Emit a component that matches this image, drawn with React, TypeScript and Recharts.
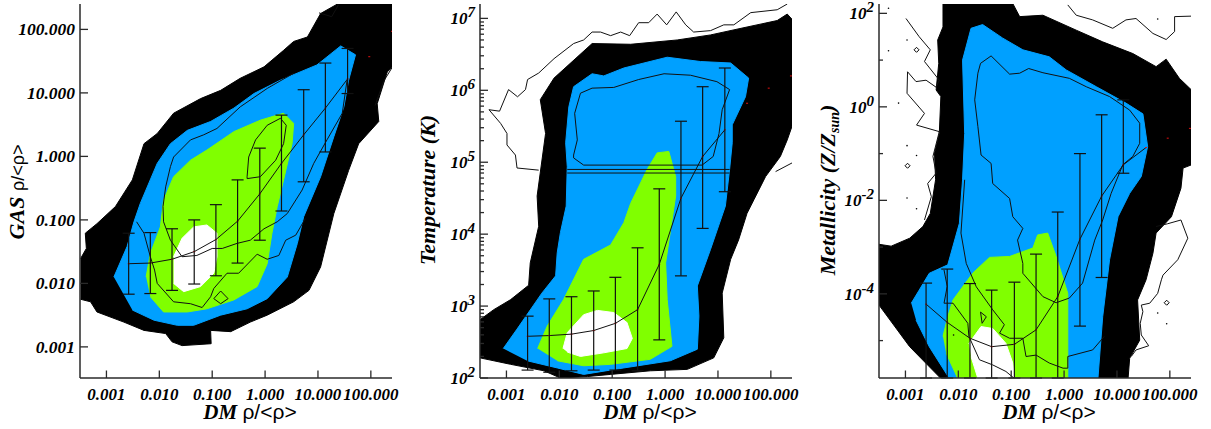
import { ComposedChart, Scatter, XAxis, YAxis, ErrorBar } from 'recharts'

// every value is log10 of the plotted quantity
const densityTicks = [-3, -2, -1, 0, 1, 2]
const densityLabels = ['0.001', '0.010', '0.100', '1.000', '10.000', '100.000']

// GAS panel
const gasBlack = [[-3.49,-1.61],[-3.38,-1.45],[-3.4,-1.21],[-3.18,-1.06],[-2.83,-0.79],[-2.51,-0.37],[-2.29,0.2],[-2.04,0.36],[-1.73,0.68],[-1.22,0.91],[-0.84,1.04],[-0.47,1.23],[-0.02,1.41],[0.35,1.67],[0.54,1.81],[0.8,1.88],[1.05,2.25],[1.39,2.41],[2.41,2.41],[2.41,1.41],[2.31,1.33],[2.12,0.83],[2.15,0.55],[1.77,0.2],[1.58,-0.22],[1.3,-0.9],[1.05,-1.74],[0.83,-2.11],[0.54,-2.29],[0.04,-2.5],[-0.28,-2.61],[-0.65,-2.76],[-1.03,-2.74],[-1.02,-2.95],[-1.57,-2.98],[-1.76,-2.92],[-1.88,-2.79],[-2.29,-2.74],[-2.67,-2.61],[-3.18,-2.45],[-3.3,-2.29],[-3.49,-2.25]]
const gasBlue = [[-2.86,-1.9],[-2.61,-1.42],[-2.48,-1.03],[-2.36,-0.74],[-2.04,-0.11],[-1.79,0.2],[-1.47,0.41],[-1.03,0.55],[-0.59,0.76],[-0.21,0.99],[0.29,1.2],[0.98,1.44],[1.43,1.74],[1.71,1.6],[1.58,1.2],[1.49,0.78],[1.3,0.31],[1.05,-0.32],[0.73,-0.95],[0.61,-1.37],[0.42,-1.9],[0.04,-2.24],[-0.34,-2.4],[-0.84,-2.5],[-1.35,-2.66],[-1.66,-2.66],[-2.1,-2.58],[-2.51,-2.42]]
const gasGreen = [[-2.25,-1.9],[-2.17,-1.53],[-1.98,-1.11],[-1.92,-0.69],[-1.73,-0.32],[-1.41,-0.06],[-1.1,0.1],[-0.59,0.39],[-0.09,0.57],[0.35,0.68],[0.54,0.52],[0.51,0.2],[0.35,-0.37],[0.23,-0.79],[0.13,-1.21],[0.04,-1.69],[-0.15,-2.05],[-0.59,-2.26],[-1.1,-2.4],[-1.47,-2.45],[-1.92,-2.45],[-2.17,-2.21]]
const gasWhite = [[-1.73,-1.58],[-1.57,-1.29],[-1.35,-1.11],[-1.1,-1.08],[-0.91,-1.21],[-0.91,-1.58],[-0.97,-1.84],[-1.22,-2.05],[-1.54,-2.13],[-1.73,-2]]
const gasContourA = [[0.54,1.31],[0.04,1.07],[-0.47,0.78],[-0.91,0.44],[-1.16,0.34],[-1.41,0.26],[-1.73,-0.01],[-1.79,-0.16],[-1.88,-0.48],[-1.93,-0.79],[-1.92,-1.03],[-1.79,-1.32],[-1.57,-1.58],[-1.29,-1.56],[-1,-1.45],[-0.81,-1.45],[-0.53,-1.37],[-0.28,-1.32],[-0.02,-1.14],[0.23,-1.03],[0.42,-0.9],[0.7,-0.53],[0.92,-0.11],[1.17,0.26],[1.46,0.68],[1.55,1.2]]
const gasContourB = [[-2.43,-1.03],[-2.29,-1.21],[-2.17,-1.58],[-2.09,-1.79],[-2.04,-2],[-1.73,-2.29],[-1.41,-2.32],[-1.19,-2.38],[-1.03,-2.21],[-0.97,-2.08],[-0.72,-1.84],[-0.5,-1.84],[-0.15,-1.54],[0.04,-1.62],[0.26,-1.56],[0.39,-1.32],[0.58,-1.24],[0.76,-0.98]]
const gasContourC = [[-0.34,-0.32],[-0.31,-0.01],[-0.18,0.26],[0.04,0.49],[0.29,0.6],[0.4,0.49],[0.35,0.2],[0.2,-0.06],[-0.09,-0.32],[-0.34,-0.35],[-0.34,-0.32]]
const gasContourD = [[-0.97,-2.24],[-0.84,-2.12],[-0.7,-2.24],[-0.84,-2.32],[-0.97,-2.24]]
const gasContourE = [[1.02,2.26],[1.26,2.2],[1.39,2.39]]
const gasContourF = [[2.08,0.8],[2.24,1.18],[2.41,1.41]]
const gasMedX = [-2.58,-2.17,-1.76,-1.34,-0.93,-0.52,-0.1,0.31,0.73,1.14,1.56]
const gasMed = [-1.69,-1.68,-1.62,-1.5,-1.31,-1.02,-0.59,-0.11,0.34,0.76,1.22]
const gasHi = [-1.21,-1.2,-1.14,-1,-0.76,-0.37,0.13,0.65,1.05,1.47,1.7]
const gasLo = [-2.17,-2.16,-2.11,-2.01,-1.88,-1.68,-1.32,-0.86,-0.4,0.07,0.99]
const gasSpecks = [[1.97,1.57],[2.4,1.97]]

// Temperature panel
const tempBlack = [[-3.5,2.81],[-3.24,2.95],[-2.92,3.09],[-2.58,3.29],[-2.55,3.6],[-2.39,4.11],[-2.42,4.53],[-2.26,5.4],[-2.36,5.87],[-2.1,6.17],[-1.38,6.65],[-0.65,6.64],[0.23,6.7],[0.86,6.77],[1.55,6.88],[2.12,6.97],[2.31,7.06],[2.41,6.98],[2.41,5.52],[2.31,5.31],[2.18,5.08],[1.9,4.8],[1.68,4.48],[1.55,4.29],[1.39,3.92],[1.24,3.65],[1.08,3.18],[1.11,2.56],[0.92,2.28],[0.42,2.12],[-0.28,2.1],[-1.03,2.05],[-1.47,2.02],[-1.98,2],[-2.29,2.1],[-2.92,2.19],[-3.5,2.28]]
const tempBlue = [[-3.06,2.41],[-2.8,2.68],[-2.33,3.18],[-2.07,3.42],[-2.04,3.74],[-1.98,4.02],[-1.87,4.39],[-1.85,4.94],[-1.88,5.27],[-1.82,5.77],[-1.73,6.05],[-1.38,6.23],[-1.16,6.2],[-0.78,6.31],[0.04,6.46],[0.67,6.4],[1.24,6.38],[1.58,6.17],[1.52,5.91],[1.27,5.52],[1.27,5.27],[1.22,4.9],[1.14,4.39],[0.86,3.79],[0.61,3.28],[0.64,2.86],[0.61,2.4],[0.1,2.24],[-0.78,2.14],[-1.54,2.05],[-2.04,2.14],[-2.61,2.24]]
const tempGreen = [[-2.41,2.41],[-2.23,2.72],[-1.92,3.09],[-1.54,3.65],[-1.03,3.85],[-0.78,4.16],[-0.65,4.43],[-0.34,4.9],[-0.15,5.13],[0.07,5.15],[0.2,4.8],[0.2,4.53],[0.01,3.6],[0.04,3.09],[0.13,2.44],[-0.28,2.26],[-1.03,2.19],[-1.54,2.17],[-2.04,2.24]]
const tempWhite = [[-1.93,2.41],[-1.85,2.63],[-1.54,2.88],[-1.28,2.94],[-0.97,2.91],[-0.72,2.77],[-0.62,2.55],[-0.72,2.41],[-1.16,2.35],[-1.6,2.3],[-1.85,2.36]]
const tempContourOuter = [[-2.39,4.89],[-2.8,4.92],[-2.83,5.1],[-2.99,5.24],[-2.99,5.4],[-3.11,5.54],[-3.33,5.73],[-3.13,5.71],[-2.96,6.01],[-2.79,5.91],[-2.64,6.01],[-2.6,6.15],[-2.39,6.24],[-2.1,6.44],[-1.73,6.65],[-1.54,6.7],[-1.38,6.81],[-1.22,6.81],[-1.03,6.76],[-0.84,6.81],[-0.67,6.76],[-0.5,6.94],[-0.31,6.94],[-0.15,7.06],[0.03,6.91],[0.21,7.09],[0.39,6.91],[0.54,6.81],[0.86,6.83],[1.11,6.91],[1.3,6.91],[1.62,7.08],[2.12,7.12],[2.31,7.2]]
const tempContourRight = [[2.09,4.87],[2.4,4.99]]
const tempContourInner = [[-1.73,5.1],[-1.66,5.31],[-1.71,5.68],[-1.6,5.96],[-1.38,6.03],[-0.97,6.04],[-0.5,6.15],[-0.02,6.23],[0.48,6.21],[0.98,6.12],[1.22,6.01],[1.08,5.73],[1.02,5.4],[0.91,5.08],[0.7,4.96],[-1.54,4.96],[-1.73,5.06],[-1.73,5.1]]
const tempBandUpper = [[-1.85,4.9],[1.22,4.9]]
const tempBandLower = [[-1.85,4.85],[1.22,4.85]]
const tempMedX = [-2.6,-2.19,-1.77,-1.35,-0.94,-0.52,-0.11,0.3,0.71,1.13]
const tempMed = [2.58,2.59,2.61,2.66,2.76,2.95,3.58,4.5,5.08,5.45]
const tempHi = [2.86,3.1,3.13,3.21,3.4,3.81,4.63,5.57,6.05,6.31]
const tempLo = [2.11,2.08,2.1,2.11,2.11,2.1,2.53,3.42,4.08,4.59]
const tempSpecks = [[1.55,5.82],[1.96,6.03],[2.38,6.2]]
const tempTicks = [2, 3, 4, 5, 6, 7]
const tempMinorTicks = [2.30,2.48,2.60,2.70,2.78,2.85,2.90,2.95,3.30,3.48,3.60,3.70,3.78,3.85,3.90,3.95,4.30,4.48,4.60,4.70,4.78,4.85,4.90,4.95,5.30,5.48,5.60,5.70,5.78,5.85,5.90,5.95,6.30,6.48,6.60,6.70,6.78,6.85,6.90,6.95]

// Metallicity panel
const metalBlack = [[-2.29,2.21],[-2.29,1.71],[-2.39,1.43],[-2.37,0.93],[-2.42,0.36],[-2.33,0.22],[-2.36,-0.57],[-2.45,-0.99],[-2.43,-1.56],[-2.53,-2.28],[-2.67,-2.56],[-2.92,-2.81],[-3.27,-2.98],[-3.5,-2.94],[-3.5,-4.24],[-2.92,-5.13],[-2.33,-5.81],[1.21,-5.81],[1.24,-5.38],[1.43,-4.99],[1.39,-4.13],[1.55,-3.7],[1.68,-3.13],[1.74,-2.7],[2.03,-2.35],[2.21,-1.74],[2.25,-1.31],[2.41,-1.24],[2.41,0.36],[2.18,0.61],[1.93,1.02],[1.74,0.86],[1.3,1.14],[0.73,1.39],[0.23,1.64],[-0.4,1.96],[-0.84,1.93],[-0.97,2.21]]
const metalBlue = [[-2.89,-4.2],[-2.74,-3.92],[-2.55,-3.56],[-2.2,-3.38],[-1.98,-2.49],[-1.92,-1.56],[-1.88,-0.57],[-1.92,1],[-1.76,1.68],[-1.54,1.76],[-1.16,1.47],[-0.78,1.22],[-0.28,1.07],[0.04,0.79],[0.61,0.43],[1.17,0.08],[1.49,-0.15],[1.58,-0.85],[1.46,-1.49],[1.24,-1.85],[1.02,-2.35],[0.86,-3.27],[0.73,-4.49],[0.64,-5.81],[-2.17,-5.81],[-2.55,-5.13],[-2.8,-4.56]]
const metalGreen = [[-2.29,-4.91],[-2.2,-4.49],[-2.1,-4.13],[-1.73,-3.56],[-1.41,-3.22],[-1.03,-3.2],[-0.59,-3.02],[-0.5,-2.74],[-0.31,-2.7],[-0.15,-3.2],[0.07,-3.99],[0.07,-5.81],[-2.01,-5.81],[-2.23,-5.27]]
const metalWhite = [[-1.8,-5.06],[-1.57,-4.7],[-1.35,-4.74],[-1.1,-5.06],[-0.97,-5.48],[-0.94,-5.81],[-1.63,-5.81],[-1.76,-5.34]]
const metalContourK = [[-1.58,0.93],[-1.38,1.09],[-1.03,0.7],[-0.84,0.72],[-0.67,0.82],[-0.4,0.73],[0.1,0.61],[0.42,0.43],[0.86,0.22],[1.24,-0.07],[1.43,-0.35],[1.43,-0.78],[1.3,-1.06],[1.11,-1.24],[0.89,-1.85],[0.73,-2.42],[0.58,-2.85],[0.35,-3.77],[0.1,-4.09],[-0.15,-4.19],[-0.4,-4.06],[-0.78,-3.56],[-0.78,-3.35],[-0.88,-2.85],[-0.78,-2.6],[-0.97,-2.35],[-1.03,-1.96],[-1.35,-1.64],[-1.38,-1.21],[-1.57,-1.03],[-1.63,-0.42],[-1.69,0.15],[-1.63,0.72],[-1.58,0.93]]
const metalContourL = [[-1.88,-1.56],[-1.95,-2.7],[-1.85,-3.35],[-1.66,-3.85],[-1.35,-4.34],[-1.13,-4.66],[-1.22,-4.84],[-1.03,-4.95],[-0.78,-4.95],[-0.72,-5.34],[-0.53,-5.31],[-0.28,-5.48],[-0.02,-5.59],[0.07,-5.59],[0.07,-5.34],[0.54,-5.2],[0.76,-4.91]]
const metalContourM = [[-2.27,-3.49],[-2.21,-3.84],[-2.27,-4.2],[-2.1,-4.2],[-1.82,-4.63],[-1.8,-4.91],[-1.6,-5.41],[-1.35,-5.52],[-1.1,-5.66],[-0.94,-5.81]]
const metalContourN = [[-1.58,-4.39],[-1.47,-4.49],[-1.55,-4.63],[-1.58,-4.39]]
const metalContourO = [[-2.99,1.89],[-2.74,1.5],[-2.53,1.22],[-2.64,0.97],[-2.36,0.57],[-2.42,0.42],[-2.61,0.57],[-2.8,0.54],[-2.96,0.75],[-2.97,0.29],[-2.64,-0.14],[-2.79,-0.39],[-2.36,-0.53],[-2.48,-1.06],[-2.42,-1.42],[-2.58,-1.64],[-2.51,-1.92],[-2.64,-2.42]]
const metalContourP = [[0.07,2.18],[0.23,1.96],[0.54,1.86],[0.92,1.68],[1.17,1.86],[1.36,1.89],[1.68,1.57],[1.93,1.44],[2.09,1.61],[2.09,1.93],[2.4,1.94]]
const metalContourQ = [[1.74,-2.56],[1.96,-2.5],[2.21,-2.42],[2.34,-2.81],[2.15,-3.27],[1.87,-3.6],[1.84,-3.7],[1.77,-3.99],[1.62,-4.2],[1.46,-4.24],[1.49,-4.38],[1.44,-4.63],[1.46,-4.88],[1.6,-5.11],[1.36,-5.2],[1.27,-5.34]]
const metalMedX = [-2.61,-2.21,-1.78,-1.37,-0.94,-0.53,-0.12,0.3,0.71,1.12,1.55]
const metalMed = [-4.22,-4.61,-4.95,-5.13,-5.08,-4.77,-4.06,-2.83,-1.91,-1.24,-0.87]
const metalHi = [-3.77,-3.47,-3.78,-3.92,-3.75,-3.15,-2.25,-1,-0.17,0.15,-0.87]
const metalLo = [-5.8,-5.8,-5.8,-5.8,-5.8,-5.8,-5.8,-4.69,-3.65,-1.42,-0.87]
const metalSpecks = [[1.96,-0.67],[2.38,-0.46]]
const metalDots = [[-3.32,2.11],[-2.97,1.43],[-3.32,1.2],[-3.13,0.08],[-2.97,-0.83],[-2.79,-1.04],[-2.97,-1.95],[-2.79,-2.18],[1.77,1.88],[1.77,-4.41],[1.94,-4.64],[-2.09,-4.88]]
const metalDiamonds = [[-2.79,1.22],[-2.96,-1.26],[1.94,-4.19]]
const metalTicks = [-4, -2, 0, 2]
const metalMinorTicks = [-5, -3, -1, 1]

const PLOT_W = 312
const PLOT_H = 374
const TOP = 4
const HEIGHT = 429
const BLUE = '#00a0ff'
const GREEN = '#80ff00'
const AXIS = '#2a2a2a'
const SERIF = '"Liberation Serif", serif'
const SANS = '"Liberation Sans", sans-serif'

const toPoints = (list: number[][]) => list.map(([x, y]) => ({ x, y }))

const NoMark = () => <g />
const RedDot = ({ cx, cy }: any) => <rect x={cx - 1} y={cy - 0.5} width={2} height={1} fill="#e01010" />
const BlackDot = ({ cx, cy }: any) => <circle cx={cx} cy={cy} r={0.8} fill="#000" />
const Diamond = ({ cx, cy }: any) => (
  <polygon
    points={`${cx - 2.5},${cy} ${cx},${cy - 2.5} ${cx + 2.5},${cy} ${cx},${cy + 2.5}`}
    fill="none" stroke="#000" strokeWidth={1}
  />
)

function tickText(label: any, x: number, y: number, anchor: string, size = 17) {
  return (
    <text x={x} y={y} textAnchor={anchor} fontFamily={SERIF} fontWeight={700} fontStyle="italic" fontSize={size} fill="#000">
      {label}
    </text>
  )
}

function powerLabel(exp: number, x: number, y: number) {
  return (
    <text x={x} y={y} textAnchor="end" fontFamily={SERIF} fontWeight={700} fontStyle="italic" fontSize={17} fill="#000">
      10<tspan dy={-7} fontSize={15}>{exp}</tspan>
    </text>
  )
}

function Panel({ left, width, yWidth, yDomain, yTicks, minorTicks = [], yLabel, fills, contours, medX, med, hi, lo, specks, dots = [], diamonds = [], title }: any) {
  const rows = medX.map((x: number, i: number) => ({
    x,
    y: med[i],
    err: hi[i] === lo[i] ? undefined : [med[i] - lo[i], hi[i] - med[i]],
  }))
  const allY = [...yTicks, ...minorTicks].sort((a: number, b: number) => a - b)
  const isMajor = (v: number) => yTicks.includes(v)

  const bottomTick = ({ x, y, payload }: any) => (
    <g>
      <line x1={x} x2={x} y1={y} y2={y - 7.5} stroke={AXIS} strokeWidth={1.3} />
      {tickText(densityLabels[densityTicks.indexOf(payload.value)], x, y + 22, 'middle')}
    </g>
  )
  const topTick = ({ x, y }: any) => <line x1={x} x2={x} y1={y} y2={y + 7.5} stroke={AXIS} strokeWidth={1.3} />
  const leftTick = ({ x, y, payload }: any) => (
    <g>
      <line x1={x} x2={x + (isMajor(payload.value) ? 8 : 4)} y1={y} y2={y} stroke={AXIS} strokeWidth={1.3} />
      {isMajor(payload.value) ? yLabel(payload.value, x - 5, y + 6) : null}
    </g>
  )
  const rightTick = ({ x, y, payload }: any) => (
    <line x1={x} x2={x - (isMajor(payload.value) ? 8 : 4)} y1={y} y2={y} stroke={AXIS} strokeWidth={1.3} />
  )

  return (
    <div style={{ position: 'absolute', left, top: 0, width, height: HEIGHT }}>
      <ComposedChart
        width={width}
        height={HEIGHT}
        margin={{ top: TOP, right: width - yWidth - PLOT_W, bottom: 0, left: 0 }}
      >
        <XAxis
          dataKey="x" type="number" domain={[-3.5, 2.4]} allowDataOverflow ticks={densityTicks} interval={0}
          height={HEIGHT - TOP - PLOT_H} tickSize={0} tickMargin={0} tickLine={false} tick={bottomTick}
          stroke={AXIS} strokeWidth={1.5} zIndex={800}
          label={() => title(yWidth + PLOT_W / 2 + 14, 419)}
        />
        <XAxis
          xAxisId="top" orientation="top" type="number" domain={[-3.5, 2.4]} allowDataOverflow ticks={densityTicks} interval={0}
          height={0} tickSize={0} tickMargin={0} tickLine={false} tick={topTick} stroke={AXIS} strokeWidth={1.5} zIndex={800}
        />
        <YAxis
          dataKey="y" type="number" domain={yDomain} allowDataOverflow ticks={allY} interval={0}
          width={yWidth} tickSize={0} tickMargin={0} tickLine={false} tick={leftTick} stroke={AXIS} strokeWidth={1.5} zIndex={800}
        />
        <YAxis
          yAxisId="right" orientation="right" type="number" domain={yDomain} allowDataOverflow ticks={allY} interval={0}
          width={0} tickSize={0} tickMargin={0} tickLine={false} tick={rightTick} stroke={AXIS} strokeWidth={1.5} zIndex={800}
        />
        {fills.map(([pts, color]: any, i: number) => (
          <Scatter
            key={i} data={toPoints(pts)} shape={NoMark} fill={color}
            line={{ fill: color, stroke: color, strokeWidth: 1 }} isAnimationActive={false}
          />
        ))}
        {contours.map((pts: number[][], i: number) => (
          <Scatter
            key={i} data={toPoints(pts)} shape={NoMark} fill="#000"
            line={{ fill: 'none', stroke: '#111', strokeWidth: 1 }} isAnimationActive={false}
          />
        ))}
        <Scatter data={toPoints(dots)} shape={BlackDot} isAnimationActive={false} />
        <Scatter data={toPoints(diamonds)} shape={Diamond} isAnimationActive={false} />
        <Scatter
          data={rows} shape={RedDot} fill="#000"
          line={{ fill: 'none', stroke: '#111', strokeWidth: 1 }} isAnimationActive={false}
        >
          <ErrorBar dataKey="err" direction="y" width={6} stroke="#111" strokeWidth={1.2} isAnimationActive={false} zIndex={700} />
        </Scatter>
        <Scatter data={toPoints(specks)} shape={RedDot} isAnimationActive={false} />
      </ComposedChart>
    </div>
  )
}

const dmTitle = (x: number, y: number) => (
  <text x={x} y={y} textAnchor="middle" fontSize={21} fill="#000">
    <tspan fontFamily={SERIF} fontWeight={700} fontStyle="italic">DM </tspan>
    <tspan fontFamily={SANS}>ρ/&lt;ρ&gt;</tspan>
  </text>
)

const yTitle = (x: number, y: number, children: any) => (
  <text transform={`translate(${x},${y}) rotate(-90)`} textAnchor="middle" fontSize={22} fill="#000" fontFamily={SERIF} fontWeight={700} fontStyle="italic">
    {children}
  </text>
)

export default function App() {
  return (
    <div style={{ position: 'absolute', left: 0, top: 0, width: 1211, height: HEIGHT, background: '#fff' }}>
      <Panel
        left={0} width={400} yWidth={80} yDomain={[-3.49, 2.4]} yTicks={densityTicks}
        yLabel={(v: number, x: number, y: number) => tickText(densityLabels[densityTicks.indexOf(v)], x, y, 'end', 17.5)}
        fills={[[gasBlack, '#000'], [gasBlue, BLUE], [gasGreen, GREEN], [gasWhite, '#fff']]}
        contours={[gasContourA, gasContourB, gasContourC, gasContourD, gasContourE, gasContourF]}
        medX={gasMedX} med={gasMed} hi={gasHi} lo={gasLo} specks={gasSpecks} title={dmTitle}
      />
      <Panel
        left={400} width={400} yWidth={80} yDomain={[2, 7.2]} yTicks={tempTicks} minorTicks={tempMinorTicks}
        yLabel={powerLabel}
        fills={[[tempBlack, '#000'], [tempBlue, BLUE], [tempGreen, GREEN], [tempWhite, '#fff']]}
        contours={[tempContourOuter, tempContourRight, tempContourInner, tempBandUpper, tempBandLower]}
        medX={tempMedX} med={tempMed} hi={tempHi} lo={tempLo} specks={tempSpecks} title={dmTitle}
      />
      <Panel
        left={800} width={411} yWidth={79} yDomain={[-5.8, 2.2]} yTicks={metalTicks} minorTicks={metalMinorTicks}
        yLabel={powerLabel}
        fills={[[metalBlack, '#000'], [metalBlue, BLUE], [metalGreen, GREEN], [metalWhite, '#fff']]}
        contours={[metalContourK, metalContourL, metalContourM, metalContourN, metalContourO, metalContourP, metalContourQ]}
        dots={metalDots} diamonds={metalDiamonds}
        medX={metalMedX} med={metalMed} hi={metalHi} lo={metalLo} specks={metalSpecks} title={dmTitle}
      />
      <svg width={1211} height={HEIGHT} style={{ position: 'absolute', left: 0, top: 0, pointerEvents: 'none' }}>
        {yTitle(24, 192, <>GAS <tspan fontFamily={SANS} fontWeight={400} fontStyle="normal" fontSize={18}>ρ/&lt;ρ&gt;</tspan></>)}
        {yTitle(435, 190, 'Temperature (K)')}
        {yTitle(835, 190, <>Metallicity (Z/Z<tspan dy={4} fontSize={14}>sun</tspan><tspan dy={-4}>)</tspan></>)}
      </svg>
    </div>
  )
}
